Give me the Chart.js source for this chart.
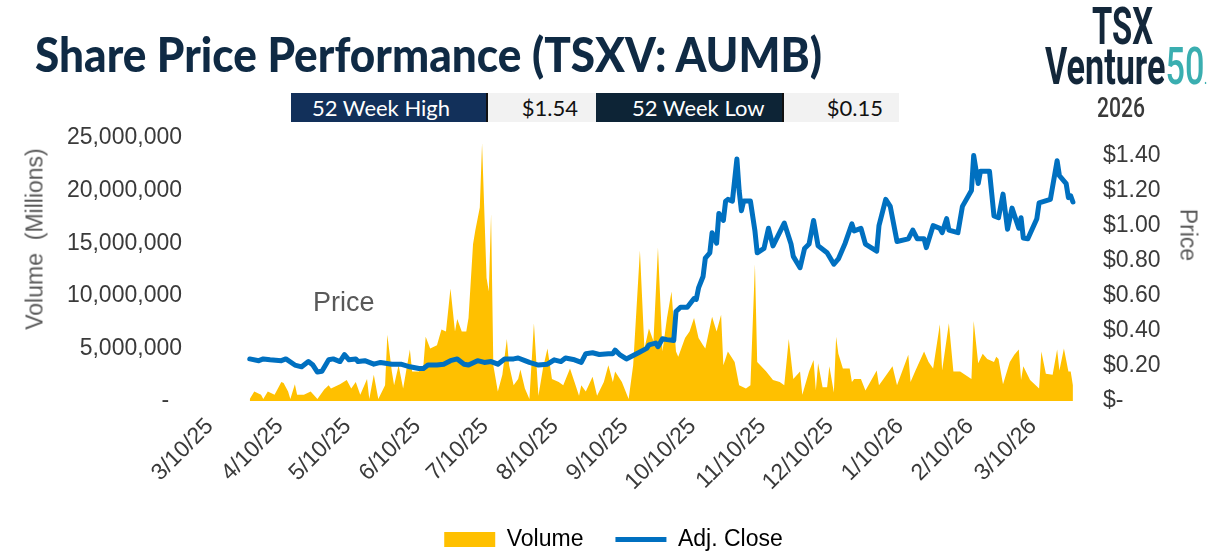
<!DOCTYPE html>
<html>
<head>
<meta charset="utf-8">
<script src="https://cdn.jsdelivr.net/npm/chart.js@4"></script>
<style>
  html, body { margin: 0; padding: 0; background: #fff; width: 1227px; height: 551px; overflow: hidden; }
  #wrap { position: relative; width: 1227px; height: 551px; overflow: hidden; }
  canvas { position: absolute; left: 0; top: 0; }
  .txt { position: absolute; white-space: pre; line-height: 1; }
  #title { left: 35px; top: 25px; font: 900 48px Lato, sans-serif; color: #0f2a44; transform-origin: left top; }
  .box { position: absolute; top: 93px; height: 29px; font: 22px Lato, sans-serif; line-height: 29px; box-sizing: border-box; }
  .box.dark { color: #fff; }
  .box.light { background: #f2f2f2; color: #111; text-align: right; }
  .logo { position: absolute; font-family: Roboto, sans-serif; font-weight: 700; line-height: 1; white-space: pre; transform-origin: left top; }
  .axis-title { position: absolute; font: 23px 'Liberation Sans', Arial, sans-serif; color: #595959; white-space: pre; line-height: 1; }
</style>
</head>
<body>
<div id="wrap">
  <canvas id="chart" width="1227" height="561"></canvas>

  <div id="title" class="txt">Share Price Performance (TSXV: AUMB)</div>

  <div class="box dark" style="left:291px;width:195px;background:#12305a;padding-left:21px;">52 Week High</div>
  <div class="box light" style="left:486px;width:110px;padding-right:18px;border-left:2px solid #111;">$1.54</div>
  <div class="box dark" style="left:596px;width:186px;background:#0d2436;padding-left:36px;">52 Week Low</div>
  <div class="box light" style="left:782px;width:117px;padding-right:16px;border-left:2px solid #111;">$0.15</div>

  <div id="logoTsx" class="logo" style="left:1092px;top:1px;font-size:52px;color:#13273a;">TSX</div>
  <div id="logoVenture" class="logo" style="left:1045px;top:41px;font-size:52px;color:#13273a;">Venture<span style="color:#3aaeb0;font-weight:500;">50</span><span style="color:#3aaeb0;font-size:14px;">.</span></div>
  <div id="logoYear" class="logo" style="left:1097px;top:94px;font-size:28px;font-weight:500;color:#3a3a3a;">2026</div>

  <div class="axis-title" style="left:35px;top:239px;transform:translate(-50%,-50%) rotate(-90deg);">Volume  (Millions)</div>
  <div class="axis-title" style="left:1188px;top:235px;transform:translate(-50%,-50%) rotate(90deg);">Price</div>
  <div class="axis-title" style="left:313px;top:289px;font-size:27px;">Price</div>
</div>

<script>
const FONT = "'Liberation Sans', Arial, sans-serif";
const COLORS = {
    volume: '#FFC000',
    price: '#0070C0',
    tick: '#3a3a3a',
    legend: '#404040'
};

// x positions are days counted from 3/10/25
const tickDays = [0, 31, 61, 92, 122, 153, 184, 214, 245, 275, 306, 337, 365];
const tickLabels = ['3/10/25', '4/10/25', '5/10/25', '6/10/25', '7/10/25', '8/10/25', '9/10/25',
    '10/10/25', '11/10/25', '12/10/25', '1/10/26', '2/10/26', '3/10/26'];

const volumeDays = [15, 17, 20, 21, 23, 26, 29, 30, 32, 33, 35, 36, 39, 42, 45, 48, 50, 51, 55, 58,
    60, 62, 64, 67, 68, 70, 72, 75, 76, 78, 79, 81, 83, 86, 87, 90, 92, 93, 95, 98,
    100, 102, 104, 106, 107, 109, 111, 112, 114, 115, 117, 118, 120, 121, 122, 123, 125, 127, 129, 130,
    132, 134, 135, 137, 139, 141, 143, 145, 147, 149, 152, 154, 157, 159, 161, 162, 164, 167, 169, 172,
    174, 176, 177, 180, 183, 185, 188, 190, 192, 194, 196, 198, 200, 202, 204, 205, 208, 210, 212, 214,
    216, 217, 220, 222, 224, 225, 227, 230, 232, 235, 237, 239, 240, 244, 247, 250, 252, 254, 256, 259,
    260, 263, 265, 266, 267, 269, 271, 272, 274, 275, 276, 278, 281, 282, 283, 286, 288, 293, 294, 296,
    300, 302, 307, 308, 310, 314, 316, 318, 321, 322, 325, 327, 330, 335, 336, 338, 340, 342, 345, 346,
    347, 349, 352, 354, 356, 357, 358, 361, 365, 366, 368, 371, 373, 374, 376, 378, 379, 380];
const volumeMillions = [0.2, 0.9, 0.6, 0.2, 0.9, 0.6, 1.8, 1.7, 0.9, 0.2, 1.6, 0.6, 0.6, 0.9, 0.2, 1.1, 1.5, 1.2, 1.6, 2.0,
    1.2, 1.8, 0.6, 2.1, 0.2, 2.5, 0.2, 1.5, 6.3, 2.8, 1.5, 3.4, 1.2, 4.9, 2.8, 2.8, 3.4, 6.1, 5.0, 5.3,
    6.8, 6.6, 10.7, 6.6, 7.8, 6.6, 6.6, 7.9, 14.9, 16.2, 18.4, 24.5, 11.7, 10.4, 17.8, 3.4, 0.9, 2.5, 5.9, 3.4,
    1.5, 2.1, 3.0, 1.2, 0.2, 7.4, 0.5, 3.1, 5.0, 2.1, 1.8, 1.5, 3.1, 1.8, 0.5, 1.5, 0.9, 2.3, 0.5, 1.8,
    3.4, 1.8, 2.8, 1.8, 0.2, 3.4, 14.3, 5.0, 6.9, 5.7, 14.6, 4.7, 7.9, 10.4, 4.7, 4.2, 6.0, 6.6, 7.9, 6.0,
    5.3, 5.0, 8.0, 6.6, 8.2, 3.4, 4.7, 3.7, 1.5, 1.2, 1.5, 13.0, 3.7, 2.8, 2.0, 1.8, 1.5, 5.9, 2.1, 2.8,
    0.6, 2.8, 3.9, 1.0, 3.6, 1.3, 1.3, 3.3, 0.8, 6.1, 4.5, 3.1, 3.1, 1.8, 2.1, 2.1, 1.0, 2.9, 1.5, 2.1,
    3.3, 1.5, 4.4, 1.8, 2.8, 4.7, 3.7, 3.1, 7.3, 2.9, 7.4, 2.8, 2.8, 2.1, 7.6, 3.6, 4.5, 4.0, 3.7, 4.2,
    4.0, 1.6, 3.7, 4.4, 4.9, 2.0, 3.3, 2.0, 1.2, 4.7, 2.6, 2.5, 4.9, 2.9, 5.0, 2.8, 2.8, 1.5];

const priceDays = [15, 19, 21, 24, 29, 31, 35, 38, 41, 43, 45, 47, 50, 52, 55, 57, 59, 62, 63, 66,
    70, 73, 78, 82, 86, 90, 92, 94, 98, 101, 104, 107, 110, 112, 116, 119, 122, 125, 128, 132,
    134, 137, 139, 143, 147, 150, 153, 155, 159, 162, 164, 167, 170, 174, 176, 177, 179, 182, 185, 188,
    191, 192, 195, 196, 198, 200, 203, 204, 206, 209, 212, 213, 214, 216, 217, 219, 220, 222, 223, 225,
    226, 227, 229, 231, 232, 233, 234, 237, 239, 240, 243, 245, 247, 252, 255, 256, 259, 261, 263, 265,
    267, 271, 274, 276, 279, 282, 283, 286, 288, 293, 294, 297, 299, 302, 307, 309, 311, 314, 315, 318,
    321, 322, 324, 325, 329, 331, 335, 336, 338, 339, 343, 345, 347, 349, 351, 353, 356, 357, 358, 360,
    364, 365, 370, 373, 374, 377, 378, 379, 380];
const priceClose = [0.24, 0.23, 0.24, 0.235, 0.23, 0.24, 0.205, 0.195, 0.225, 0.205, 0.165, 0.17, 0.235, 0.24, 0.225, 0.265, 0.235, 0.24, 0.225, 0.23,
    0.21, 0.22, 0.21, 0.21, 0.195, 0.185, 0.185, 0.205, 0.205, 0.21, 0.23, 0.24, 0.21, 0.205, 0.23, 0.22, 0.225, 0.21, 0.24, 0.24,
    0.245, 0.23, 0.22, 0.205, 0.21, 0.235, 0.225, 0.245, 0.235, 0.22, 0.27, 0.275, 0.265, 0.27, 0.27, 0.29, 0.265, 0.24, 0.26, 0.28,
    0.30, 0.32, 0.33, 0.31, 0.355, 0.35, 0.345, 0.51, 0.535, 0.535, 0.585, 0.58, 0.645, 0.71, 0.815, 0.845, 0.96, 0.90, 1.07, 1.03,
    1.14, 1.15, 1.14, 1.38, 1.20, 1.085, 1.14, 1.14, 0.97, 0.845, 0.87, 0.985, 0.885, 1.015, 0.895, 0.825, 0.76, 0.87, 0.895, 1.03,
    0.885, 0.845, 0.78, 0.81, 0.90, 1.01, 0.97, 0.985, 0.895, 0.855, 1.00, 1.15, 1.11, 0.91, 0.925, 0.975, 0.925, 0.925, 0.875, 1.00,
    0.985, 0.96, 1.04, 0.975, 0.96, 1.11, 1.20, 1.40, 1.24, 1.31, 1.31, 1.055, 1.045, 1.18, 0.98, 1.10, 0.985, 1.045, 0.93, 0.925,
    1.04, 1.13, 1.15, 1.37, 1.285, 1.24, 1.16, 1.17, 1.135];

function fitWidth(id, target) {
    const el = document.getElementById(id);
    const w = el.getBoundingClientRect().width;
    if (w > 0) el.style.transform = `scaleX(${target / w})`;
}

function initChart() {
    const ctx = document.getElementById('chart').getContext('2d');
    const tickFont = { family: FONT, size: 23 };

    new Chart(ctx, {
        type: 'line',
        data: {
            datasets: [{
                label: 'Volume',
                data: volumeDays.map((d, i) => ({ x: d, y: volumeMillions[i] * 1000000 })),
                yAxisID: 'yVol',
                fill: 'origin',
                backgroundColor: COLORS.volume,
                borderColor: COLORS.volume,
                borderWidth: 0,
                pointRadius: 0,
                tension: 0,
                order: 2
            }, {
                label: 'Adj. Close',
                data: priceDays.map((d, i) => ({ x: d, y: priceClose[i] })),
                yAxisID: 'yPrice',
                fill: false,
                borderColor: COLORS.price,
                backgroundColor: COLORS.price,
                borderWidth: 5,
                borderJoinStyle: 'round',
                borderCapStyle: 'round',
                pointRadius: 0,
                tension: 0,
                order: 1
            }]
        },
        options: {
            responsive: false,
            animation: false,
            devicePixelRatio: 1,
            layout: {
                padding: { top: 138, left: 0, right: 0, bottom: 0 }
            },
            plugins: {
                tooltip: { enabled: false },
                legend: {
                    position: 'bottom',
                    labels: {
                        usePointStyle: true,
                        pointStyleWidth: 51,
                        boxHeight: 15,
                        padding: 32,
                        color: COLORS.legend,
                        font: { family: FONT, size: 23 },
                        generateLabels: (chart) => chart.data.datasets.map((ds, i) => ({
                            text: ds.label,
                            datasetIndex: i,
                            pointStyle: i === 0 ? 'rect' : 'line',
                            fillStyle: ds.backgroundColor,
                            strokeStyle: ds.borderColor,
                            lineWidth: i === 0 ? 0 : 5,
                            lineCap: 'butt',
                            hidden: false
                        }))
                    }
                }
            },
            scales: {
                x: {
                    type: 'linear',
                    min: -1.3,
                    max: 388.9,
                    grid: { display: false, drawTicks: false },
                    border: { display: false },
                    afterBuildTicks: (scale) => {
                        scale.ticks = tickDays.map(v => ({ value: v }));
                    },
                    afterFit: (scale) => { scale.height = 95; },
                    ticks: {
                        autoSkip: false,
                        minRotation: 45,
                        maxRotation: 45,
                        padding: 12,
                        labelOffset: -6,
                        color: COLORS.tick,
                        font: tickFont,
                        callback: (value) => tickLabels[tickDays.indexOf(value)]
                    }
                },
                yVol: {
                    position: 'left',
                    min: 0,
                    max: 25000000,
                    grid: { display: false, drawTicks: false },
                    border: { display: false },
                    afterFit: (scale) => { scale.width = 213; },
                    ticks: {
                        stepSize: 5000000,
                        padding: 31,
                        color: COLORS.tick,
                        font: tickFont,
                        callback: (value) => value === 0 ? '-  ' : value.toLocaleString('en-US')
                    }
                },
                yPrice: {
                    position: 'right',
                    min: 0,
                    max: 1.5,
                    grid: { display: false, drawTicks: false },
                    border: { display: false },
                    afterFit: (scale) => { scale.width = 134; },
                    ticks: {
                        stepSize: 0.2,
                        includeBounds: false,
                        padding: 10,
                        color: COLORS.tick,
                        font: tickFont,
                        callback: (value) => value === 0 ? '$-' : '$' + value.toFixed(2)
                    }
                }
            }
        }
    });
}

initChart();
document.fonts.ready.then(() => {
    fitWidth('title', 787);
    fitWidth('logoTsx', 61);
    fitWidth('logoVenture', 162);
    fitWidth('logoYear', 48);
});
</script>
</body>
</html>
